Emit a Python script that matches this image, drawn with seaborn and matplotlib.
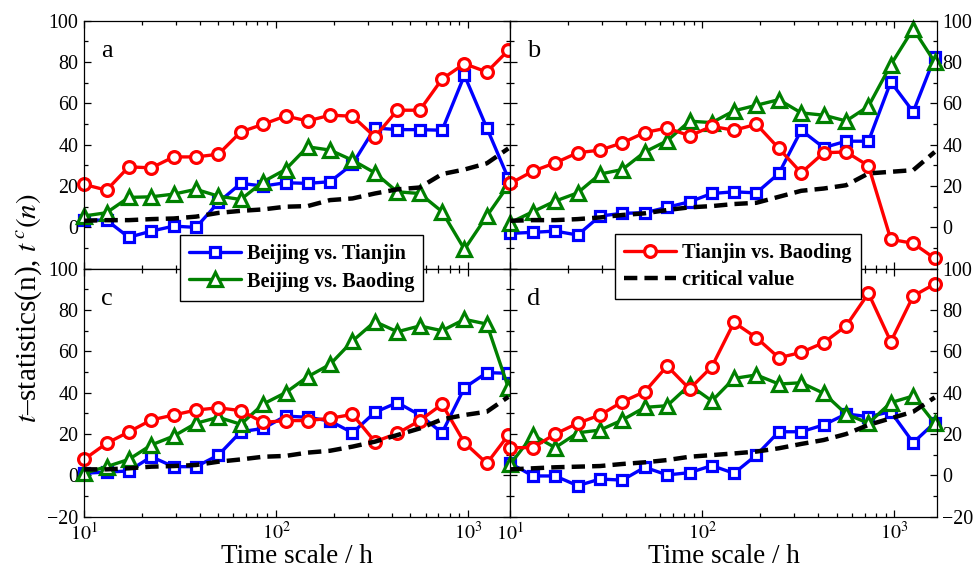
import matplotlib
matplotlib.use("Agg")
import matplotlib.pyplot as plt
import seaborn as sns
import pandas as pd
from matplotlib.ticker import MultipleLocator, FixedLocator, LogLocator, NullFormatter, FuncFormatter

# ---------------- data ----------------
time_h = [10, 13.1, 17.1, 22.4, 29.3, 38.3, 50.1, 65.5, 85.7, 112, 146, 191, 250, 327, 428, 560, 732, 957, 1252, 1620]

# panel a
bt_a = [3.5, 3.5, -4.8, -1.8, 0.6, 0.0, 12.1, 21.3, 20.0, 21.6, 21.3, 22.1, 30.6, 48.1, 47.3, 47.3, 47.0, 73.6, 48.1, 23.7]
bb_a = [5.5, 7.1, 14.5, 14.8, 16.1, 18.4, 15.1, 13.5, 22.1, 28.0, 39.0, 37.4, 32.5, 26.4, 17.2, 16.4, 7.6, -10.6, 5.5, 20.4]
tb_a = [20.8, 18.0, 29.3, 28.8, 34.1, 34.1, 35.4, 46.2, 49.9, 53.9, 51.5, 54.3, 53.8, 43.8, 56.7, 56.7, 71.8, 79.2, 75.2, 85.7]
cv_a = [3.2, 3.5, 3.5, 4.0, 4.3, 5.2, 7.0, 8.0, 8.7, 10.0, 10.3, 13.2, 14.0, 16.4, 18.4, 19.3, 25.8, 28.0, 31.0, 38.2]

# panel b
bt_b = [-2.9, -2.4, -1.8, -3.7, 5.5, 6.8, 7.1, 9.7, 12.4, 16.4, 17.2, 16.7, 26.1, 47.0, 38.6, 41.7, 41.7, 70.4, 55.9, 82.4]
bb_b = [2.3, 7.6, 12.7, 16.7, 25.8, 28.0, 36.5, 41.9, 51.4, 50.7, 56.4, 59.1, 61.8, 55.4, 54.3, 51.5, 58.6, 78.7, 96.1, 80.0]
tb_b = [21.3, 27.2, 31.2, 36.1, 37.4, 40.9, 45.9, 48.1, 44.3, 48.9, 47.0, 49.9, 38.2, 26.4, 36.1, 36.5, 29.8, -5.8, -7.7, -15.0]
cv_b = [3.2, 3.5, 3.5, 4.0, 4.8, 6.0, 6.8, 8.4, 9.7, 10.3, 11.3, 11.9, 14.8, 17.7, 18.8, 20.4, 26.1, 26.9, 27.7, 36.5]

# panel c
bt_c = [1.0, 1.6, 2.1, 9.0, 4.2, 4.2, 9.8, 21.1, 22.7, 28.7, 28.1, 26.3, 20.6, 30.5, 35.2, 29.2, 20.6, 42.4, 49.7, 49.4]
bb_c = [1.0, 4.2, 7.7, 14.7, 19.0, 25.2, 28.1, 24.7, 34.5, 40.0, 47.7, 53.7, 65.0, 74.4, 69.5, 72.3, 70.0, 75.5, 73.2, 42.4]
tb_c = [7.7, 15.5, 21.0, 26.8, 29.2, 31.6, 32.7, 31.3, 25.6, 26.5, 26.5, 27.6, 29.5, 16.3, 20.3, 26.5, 34.4, 15.8, 5.8, 19.5]
cv_c = [2.9, 2.9, 3.4, 4.2, 4.5, 5.0, 6.6, 7.7, 9.0, 9.4, 11.0, 11.9, 13.9, 16.3, 19.5, 22.7, 27.1, 29.2, 30.8, 38.0]

# panel d
bt_d = [5.8, -0.3, -0.3, -5.0, -1.8, -2.3, 3.9, 0.2, 1.3, 4.7, 1.0, 9.8, 21.1, 21.1, 24.4, 29.7, 28.4, 30.8, 15.8, 25.5]
bb_d = [5.5, 19.5, 13.4, 20.6, 21.9, 26.8, 32.9, 33.7, 43.7, 36.0, 46.9, 48.6, 44.2, 44.8, 39.7, 29.7, 25.2, 35.2, 38.4, 25.2]
tb_d = [13.4, 13.4, 20.0, 25.2, 29.2, 35.6, 40.5, 52.9, 41.8, 52.6, 74.0, 66.6, 56.9, 59.5, 64.2, 72.3, 88.1, 64.7, 86.8, 92.6]
cv_d = [2.9, 3.4, 3.9, 4.2, 4.5, 5.5, 6.3, 7.4, 9.0, 9.8, 10.6, 11.5, 13.1, 15.2, 17.1, 20.0, 24.4, 27.6, 30.8, 37.7]

series_names = ["Beijing vs. Tianjin", "Beijing vs. Baoding", "Tianjin vs. Baoding", "critical value"]
panel_letters = ["a", "b", "c", "d"]
x_ticks = [10, 100, 1000]
x_tick_labels = [r"$10^{1}$", r"$10^{2}$", r"$10^{3}$"]

# ---------------- style ----------------
sns.set_theme(style="ticks", rc={
    "axes.edgecolor": "black", "xtick.color": "black", "ytick.color": "black",
    "text.color": "black", "axes.labelcolor": "black", "axes.linewidth": 0.9,
})
plt.rcParams["font.family"] = ["Liberation Serif", "DejaVu Serif"]
plt.rcParams["mathtext.fontset"] = "stix"

fig = plt.figure(figsize=(9.77, 5.76), dpi=100)
gs = fig.add_gridspec(2, 2, left=0.086, right=0.9588, top=0.964, bottom=0.103,
                      hspace=0, wspace=0)

panels = [
    (bt_a, bb_a, tb_a, cv_a),
    (bt_b, bb_b, tb_b, cv_b),
    (bt_c, bb_c, tb_c, cv_c),
    (bt_d, bb_d, tb_d, cv_d),
]
colors = ["#0000ff", "#008000", "#ff0000"]
markers = ["s", "^", "o"]
msizes = [7.0, 10.0, 8.5]

axes = []
legend_lines = None
for i, (bt, bb, tb, cv) in enumerate(panels):
    r, c = divmod(i, 2)
    ax = fig.add_subplot(gs[r, c])
    axes.append(ax)
    lines = []
    for vals, col, mk, ms, name in zip([bt, bb, tb], colors, markers, msizes, series_names[:3]):
        df = pd.DataFrame({"t": time_h, "v": vals})
        sns.lineplot(data=df, x="t", y="v", ax=ax, color=col, marker=mk,
                     markersize=ms, markerfacecolor="white", markeredgecolor=col,
                     markeredgewidth=2.3, linewidth=2.4, clip_on=False,
                     errorbar=None, legend=False, label=name)
        lines.append(ax.get_lines()[-1])
    dfc = pd.DataFrame({"t": time_h, "v": cv})
    sns.lineplot(data=dfc, x="t", y="v", ax=ax, color="black", linewidth=3.2,
                 linestyle=(0, (3.0, 1.6)), clip_on=False, errorbar=None,
                 legend=False, label=series_names[3])
    lines.append(ax.get_lines()[-1])
    if i == 0:
        legend_lines = lines

    ax.set_xscale("log")
    ax.set_xlim(10, 1660)
    ax.set_ylim(-20, 100)
    ax.xaxis.set_major_locator(FixedLocator(x_ticks))
    ax.xaxis.set_minor_locator(LogLocator(base=10, subs=range(2, 10)))
    ax.xaxis.set_minor_formatter(NullFormatter())
    if r == 1:
        ax.set_xticklabels(x_tick_labels)
        ax.set_xlabel("Time scale / h", fontsize=19.5, labelpad=0)
    else:
        ax.set_xticklabels([])
        ax.set_xlabel("")
    ax.yaxis.set_major_locator(MultipleLocator(20))
    ax.yaxis.set_minor_locator(MultipleLocator(10))
    if r == 0:
        ax.yaxis.set_major_formatter(FuncFormatter(lambda v, p: "" if v < -10 else f"{v:.0f}".replace("-", "\u2212")))
    else:
        ax.yaxis.set_major_formatter(FuncFormatter(lambda v, p: f"{v:.0f}".replace("-", "\u2212")))
    ax.set_ylabel("")
    ax.tick_params(which="both", direction="in", top=True, bottom=True, left=True, right=True,
                   width=0.9, labelsize=14.4, pad=4)
    ax.tick_params(which="major", length=5)
    ax.tick_params(which="minor", length=3)
    if c == 1:
        ax.tick_params(labelleft=False, labelright=True)
    ax.text(0.04, 0.855, panel_letters[i], transform=ax.transAxes, fontsize=19,
            va="baseline", ha="left")

leg_kw = dict(loc="center", frameon=True, fancybox=False, edgecolor="black",
              framealpha=1, prop={"weight": "bold", "size": 14.6},
              handlelength=2.55, handletextpad=0.3, borderpad=0.45,
              labelspacing=0.35, borderaxespad=0)
leg1 = fig.legend(handles=legend_lines[:2], labels=series_names[:2],
                  bbox_to_anchor=(0.3086, 0.5347), **leg_kw)
leg2 = fig.legend(handles=legend_lines[2:], labels=series_names[2:],
                  bbox_to_anchor=(0.7552, 0.5376), **leg_kw)
for lg in (leg1, leg2):
    lg.get_frame().set_linewidth(1.0)

fig.text(0.029, 1 - 308 / 576, r"$t$–statistics(n), $t^{\,c}(n)$", rotation=90,
         va="center", ha="center", fontsize=21)

fig.savefig("out.png", dpi=100)
